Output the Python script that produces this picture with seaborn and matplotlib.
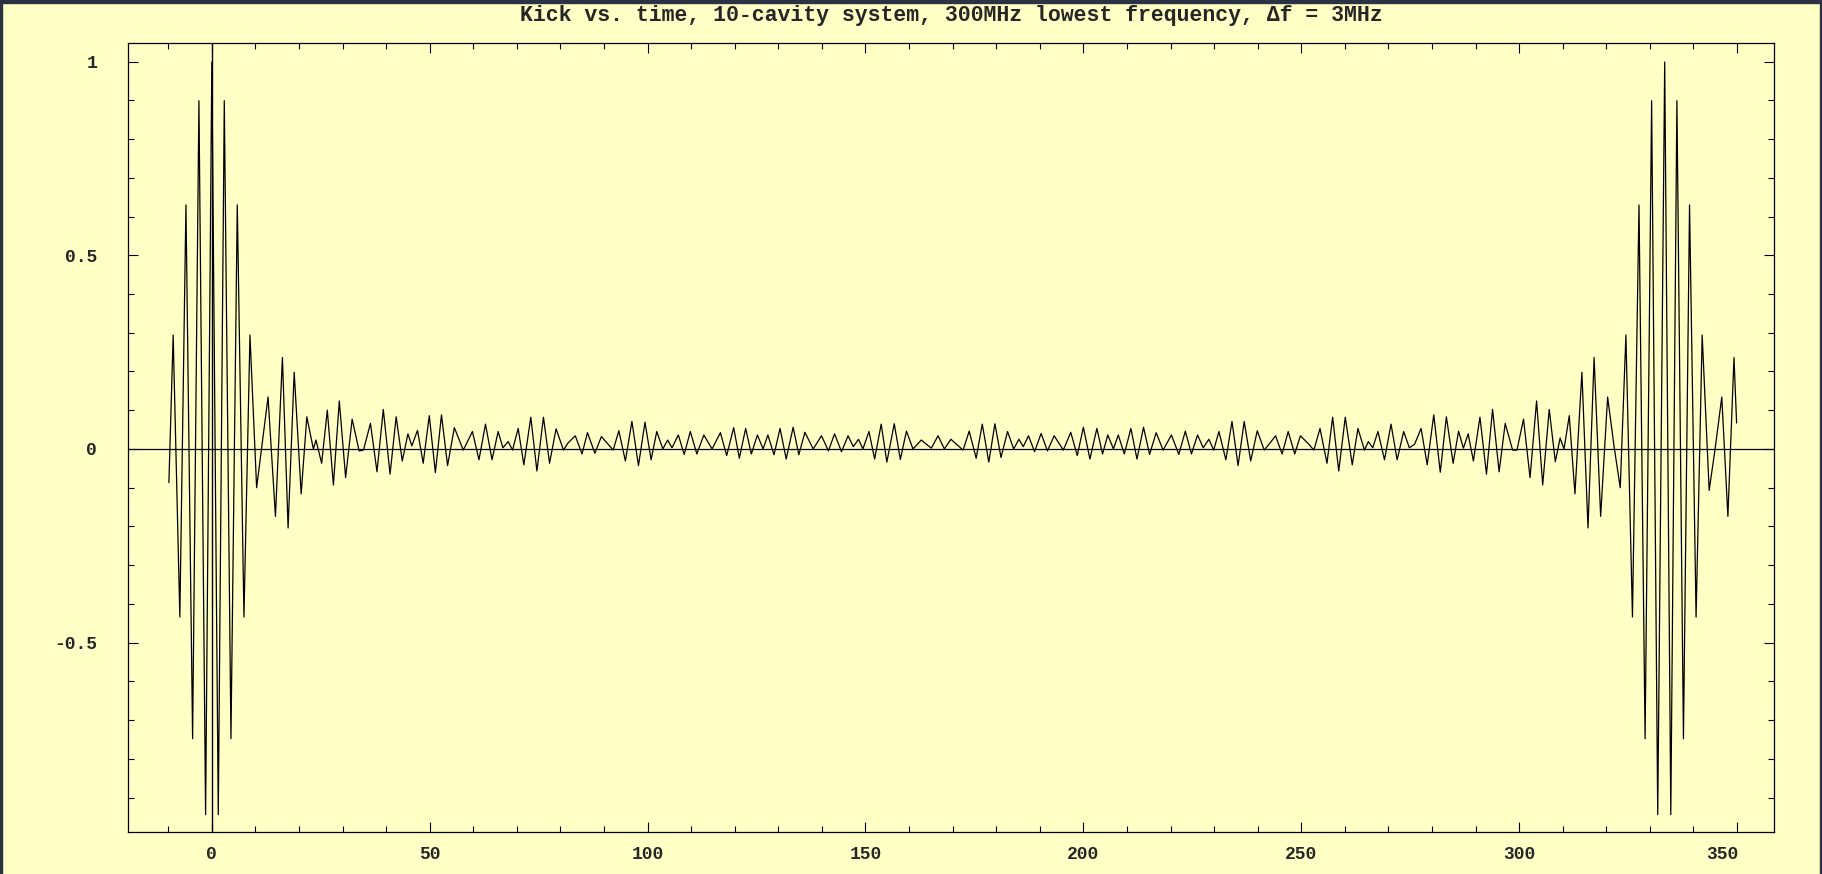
import numpy as np
import pandas as pd
import seaborn as sns
import matplotlib.pyplot as plt
import matplotlib.transforms as mtransforms
from matplotlib.patches import Rectangle
from matplotlib.ticker import MultipleLocator

# extrema of the kick curve (time in ns)
t_ns = [-9.85, -8.87, -7.34, -5.94, -4.41, -2.96, -1.43, 0.0, 1.48, 2.86,
        4.39, 5.84, 7.37, 8.75, 10.28, 11.4, 12.9, 14.6, 16.2, 17.5,
        18.9, 20.5, 21.8, 23.3, 23.9, 25.2, 26.5, 27.9,
        29.25, 30.7, 32.2, 33.8, 34.8, 36.4, 37.9, 39.35, 40.9, 42.3,
        43.7, 45.0, 45.9, 47.2, 48.5, 49.9, 51.3, 52.7, 54.1, 55.65, 57.7,
        59.8, 61.3, 62.8, 64.3, 65.7, 66.8, 68.0, 69.0, 70.3, 71.6,
        73.2, 74.6, 76.1, 77.5, 79.0, 80.7, 81.7, 83.4, 84.95, 86.2, 87.9, 89.4,
        92.1, 93.4, 94.9, 96.4, 97.9, 99.4, 100.8, 102.1, 103.5, 104.6,
        105.6, 107.05, 108.4, 109.8, 111.3, 112.9, 114.8, 116.7, 118.15, 119.75, 121.05,
        122.5, 123.8, 125.2, 126.5, 127.6, 129.0, 130.4, 131.8, 133.4, 134.7,
        136.1, 138.0, 139.9, 141.5, 142.9, 144.5, 146.0, 147.2, 148.4, 149.4,
        150.8, 152.1, 153.6,
        154.9, 156.6, 158.0, 159.4, 160.9, 162.8, 165.1, 166.65, 168.1, 169.6,
        172.4, 173.8, 175.4, 176.8, 178.3, 179.7, 181.1, 182.6, 184.0, 185.2,
        186.2, 187.4, 188.8, 190.3, 191.75, 193.3, 195.4, 197.1, 198.6, 200.0,
        201.5, 203.1, 204.4, 205.6, 206.9, 208.0, 209.4, 210.9, 212.3, 213.8,
        215.2, 216.7,
        218.3, 220.2, 221.9, 223.4, 224.8, 226.2, 227.5, 228.8, 229.9, 231.1,
        232.7, 234.1, 235.5, 236.9, 238.4, 239.9, 241.5, 242.8, 244.1, 245.6,
        247.0, 248.5,
        249.8, 251.5, 252.9, 254.3, 255.9, 257.2, 258.6, 260.1, 261.7, 263.0,
        264.5, 265.4, 266.4, 267.6, 269.1, 270.6, 272.0, 273.5, 274.8, 276.0,
        277.5, 278.9, 280.4,
        281.9, 283.3, 284.85, 286.1, 287.2, 288.3, 289.5, 291.0, 292.5, 293.9,
        295.4, 296.8, 298.5, 299.5, 301.0, 302.5, 304.0, 305.4, 306.9, 308.3,
        309.4, 310.3, 311.5,
        312.8, 314.4, 315.8, 317.2, 318.7, 320.3, 321.8, 323.2, 324.5, 326.0,
        327.5, 328.9, 330.4, 331.8, 333.4, 334.8, 336.2, 337.7, 339.1, 340.6,
        342.0, 343.6, 345.0, 346.5, 347.9, 349.3, 349.9]

kick = [-0.087, 0.294, -0.434, 0.630, -0.748, 0.899, -0.944, 0.999, -0.944, 0.899,
        -0.748, 0.630, -0.434, 0.294, -0.100, 0.0, 0.134, -0.174, 0.236, -0.204,
        0.198, -0.116, 0.083, 0.0, 0.023, -0.037, 0.100, -0.093,
        0.124, -0.074, 0.077, -0.005, -0.003, 0.066, -0.059, 0.102, -0.065, 0.083,
        -0.031, 0.039, 0.008, 0.048, -0.037, 0.086, -0.061, 0.088, -0.043, 0.055, -0.003,
        0.045, -0.028, 0.064, -0.028, 0.045, 0.003, 0.019, -0.003, 0.053, -0.041,
        0.082, -0.057, 0.082, -0.037, 0.052, -0.003, 0.015, 0.034, -0.013, 0.042, -0.011, 0.032,
        -0.003, 0.047, -0.031, 0.071, -0.043, 0.069, -0.028, 0.045, 0.0, 0.023,
        0.003, 0.036, -0.014, 0.045, -0.013, 0.036, 0.0, 0.042, -0.017, 0.055, -0.024,
        0.053, -0.013, 0.036, 0.0, 0.036, -0.015, 0.053, -0.026, 0.056, -0.015,
        0.043, 0.0, 0.034, -0.005, 0.039, -0.007, 0.034, 0.006, 0.025, 0.0,
        0.045, -0.026, 0.064,
        -0.034, 0.065, -0.027, 0.046, 0.0, 0.023, 0.002, 0.034, 0.0, 0.025,
        -0.003, 0.046, -0.024, 0.064, -0.034, 0.065, -0.022, 0.045, 0.0, 0.025,
        0.006, 0.034, -0.007, 0.040, -0.005, 0.034, -0.003, 0.043, -0.017, 0.056,
        -0.026, 0.053, -0.013, 0.036, 0.0, 0.036, -0.013, 0.053, -0.026, 0.056,
        -0.014, 0.042,
        -0.003, 0.036, -0.014, 0.046, -0.013, 0.036, 0.003, 0.025, -0.003, 0.045,
        -0.028, 0.071, -0.043, 0.071, -0.031, 0.047, -0.003, 0.015, 0.034, -0.013,
        0.045, -0.013,
        0.034, 0.015, -0.003, 0.053, -0.037, 0.082, -0.057, 0.082, -0.041, 0.053,
        -0.003, 0.019, 0.003, 0.045, -0.028, 0.064, -0.028, 0.045, 0.003, 0.012,
        0.053, -0.041, 0.088,
        -0.060, 0.083, -0.037, 0.046, 0.002, 0.039, -0.031, 0.082, -0.065, 0.102,
        -0.059, 0.066, -0.003, -0.003, 0.077, -0.074, 0.124, -0.093, 0.102, -0.033,
        0.028, 0.0, 0.086,
        -0.116, 0.198, -0.204, 0.236, -0.174, 0.134, 0.005, -0.100, 0.294, -0.434,
        0.630, -0.748, 0.899, -0.944, 0.999, -0.944, 0.899, -0.748, 0.630, -0.434,
        0.294, -0.107, 0.003, 0.134, -0.174, 0.236, 0.067]

x_ticks = [0, 50, 100, 150, 200, 250, 300, 350]
y_ticks = [-0.5, 0, 0.5, 1]
y_tick_labels = ['-0.5', '0', '0.5', '1']
title = 'Kick vs. time, 10-cavity system, 300MHz lowest frequency, \u0394f = 3MHz'

bg = '#FFFFC6'
mono = ['Liberation Mono', 'DejaVu Sans Mono']

sns.set_style('ticks')
plt.rcParams['font.family'] = mono
plt.rcParams['font.weight'] = 'bold'

df = pd.DataFrame({'t': t_ns, 'kick': kick})

fig = plt.figure(figsize=(18.22, 8.74), dpi=100, facecolor=bg)
ax = fig.add_axes([0.0701, 0.048, 0.9036, 0.9028])
ax.set_facecolor(bg)

sns.lineplot(data=df, x='t', y='kick', sort=False, estimator=None,
             color='black', linewidth=0.9, ax=ax)
ax.axhline(0, color='black', linewidth=0.9, zorder=1)
ax.axvline(0, color='black', linewidth=1.0, zorder=1)

ax.set_xlim(-19.3, 358.5)
ax.set_ylim(-0.989, 1.048)
ax.set_xticks(x_ticks)
ax.set_xticklabels([str(v) for v in x_ticks])
ax.set_yticks(y_ticks)
ax.set_yticklabels(y_tick_labels)
ax.xaxis.set_minor_locator(MultipleLocator(10))
ax.yaxis.set_minor_locator(MultipleLocator(0.1))
ax.tick_params(which='both', direction='in', top=True, right=True,
               color='black', width=0.8)
ax.tick_params(which='major', length=7, labelsize=13, pad=10)
ax.tick_params(which='minor', length=4)
ax.tick_params(axis='y', which='major', pad=22)
for lbl in ax.get_xticklabels() + ax.get_yticklabels():
    lbl.set_fontweight('bold')
# last x label sits a little left of its tick in the original
last = ax.get_xticklabels()[-1]
last.set_transform(last.get_transform() +
                   mtransforms.ScaledTranslation(-0.15, 0, fig.dpi_scale_trans))
ax.set_xlabel('')
ax.set_ylabel('')
for s in ax.spines.values():
    s.set_color('black')
    s.set_linewidth(0.9)

fig.text(0.522, 0.982, title, ha='center', va='center', fontsize=15.5,
         fontweight='bold', family=mono)

# dark frame of the screenshot
dark = '#2b3243'
fig.add_artist(Rectangle((0, 1 - 3 / 874), 1, 3 / 874, transform=fig.transFigure,
                         color=dark, zorder=5))
fig.add_artist(Rectangle((0, 0), 2 / 1822, 1, transform=fig.transFigure,
                         color=dark, zorder=5))
fig.add_artist(Rectangle((1 - 2 / 1822, 0), 2 / 1822, 1, transform=fig.transFigure,
                         color=dark, zorder=5))

fig.savefig('out.png', dpi=100, facecolor=bg)
